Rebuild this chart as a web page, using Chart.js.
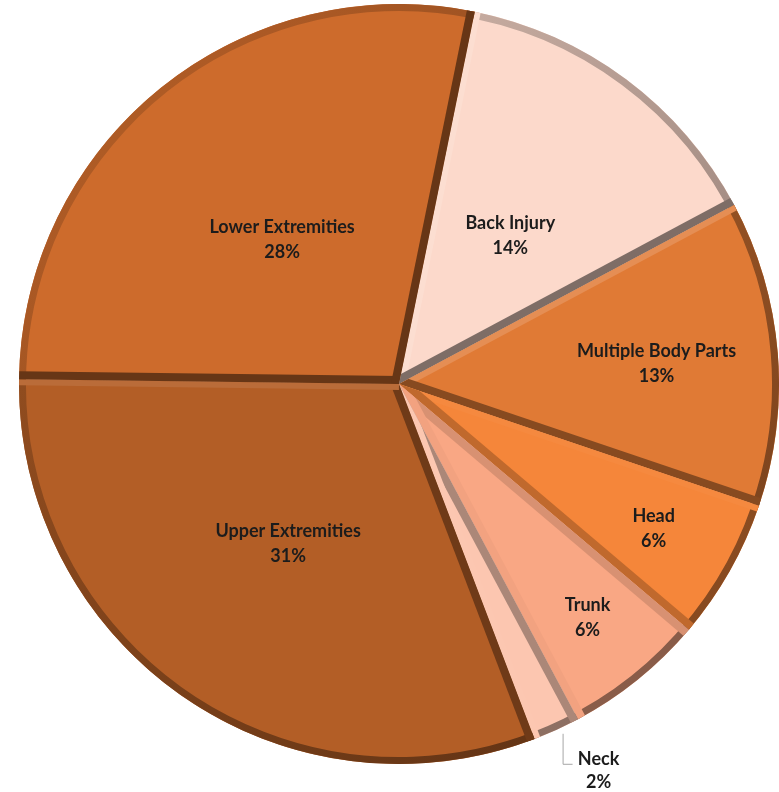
<!DOCTYPE html>
<html>
<head>
<meta charset="utf-8">
<title>Injuries by Body Part</title>
<script src="https://cdn.jsdelivr.net/npm/chart.js@4.4.1/dist/chart.umd.min.js"></script>
<style>
    html, body { margin: 0; padding: 0; background: #ffffff; }
    #wrap { width: 779px; height: 792px; position: relative; }
</style>
</head>
<body>
<div id="wrap"><canvas id="bodyPartChart"></canvas></div>
<script>
// Share of injuries by body part (percent), clockwise from Back Injury
const categories = ['Back Injury', 'Multiple Body Parts', 'Head', 'Trunk', 'Neck', 'Upper Extremities', 'Lower Extremities'];
const shares = [14, 13, 6, 6, 2, 31, 28];

// Slice look
const sliceColors = ['#fcd9cb', '#e07a35', '#f5863a', '#f9a784', '#fcc6b0', '#b35e26', '#cd6b2c'];
const labelRadius = [0.49, 0.68, 0.77, 0.79, null, 0.51, 0.49]; // null = label outside with leader line
const RIM = 7;
const DARK_SIDE = 8;
const LIGHT_SIDE = 6;
const LIGHT = [-Math.SQRT1_2, -Math.SQRT1_2]; // light comes from the top left

function hexToRgb(hex) {
    const n = parseInt(hex.slice(1), 16);
    return [(n >> 16) & 255, (n >> 8) & 255, n & 255];
}

// t > 0 faces the light (lighter), t < 0 faces away (darker)
function edgeShade(hex, t) {
    const c = hexToRgb(hex);
    let out;
    if (t >= 0) {
        out = c.map(v => v + (255 - v) * 0.25 * t);
    } else {
        out = c.map(v => v * (1 - 0.5 * -t));
    }
    return 'rgb(' + out.map(v => Math.round(v)).join(',') + ')';
}

function rimShade(hex, t) {
    const c = hexToRgb(hex);
    const f = 0.7 + 0.15 * t;
    return 'rgb(' + c.map(v => Math.round(v * f)).join(',') + ')';
}

// Bevelled edges: each slice gets a band along its rim and both radial sides
const bevelPlugin = {
    id: 'bevel',
    afterDatasetsDraw(chart) {
        const ctx = chart.ctx;
        const meta = chart.getDatasetMeta(0);
        meta.data.forEach(function(arc, i) {
            const p = arc.getProps(['x', 'y', 'startAngle', 'endAngle', 'outerRadius'], true);
            const color = sliceColors[i];
            ctx.save();
            ctx.beginPath();
            ctx.moveTo(p.x, p.y);
            ctx.arc(p.x, p.y, p.outerRadius, p.startAngle, p.endAngle);
            ctx.closePath();
            ctx.clip();

            // rim, shaded by where its outward normal points
            const grad = ctx.createConicGradient(0, p.x, p.y);
            for (let k = 0; k <= 36; k++) {
                const a = k / 36 * Math.PI * 2;
                const t = Math.cos(a) * LIGHT[0] + Math.sin(a) * LIGHT[1];
                grad.addColorStop(k / 36, rimShade(color, t));
            }
            ctx.strokeStyle = grad;
            ctx.lineWidth = RIM * 2;
            ctx.beginPath();
            ctx.arc(p.x, p.y, p.outerRadius, p.startAngle - 0.05, p.endAngle + 0.05);
            ctx.stroke();

            // radial sides, biased a little towards shadow
            const sides = [
                { a: p.startAngle, n: [Math.sin(p.startAngle), -Math.cos(p.startAngle)] },
                { a: p.endAngle, n: [-Math.sin(p.endAngle), Math.cos(p.endAngle)] }
            ];
            sides.forEach(function(s) {
                let t = s.n[0] * LIGHT[0] + s.n[1] * LIGHT[1] - 0.35;
                t = Math.max(-1, Math.min(1, t));
                ctx.strokeStyle = edgeShade(color, t);
                ctx.lineWidth = (t < 0 ? DARK_SIDE : LIGHT_SIDE) * 2;
                ctx.beginPath();
                ctx.moveTo(p.x, p.y);
                ctx.lineTo(p.x + Math.cos(s.a) * (p.outerRadius + 10), p.y + Math.sin(s.a) * (p.outerRadius + 10));
                ctx.stroke();
            });
            ctx.restore();
        });
    }
};

// Category name and percent in two lines
const labelPlugin = {
    id: 'sliceLabels',
    afterDatasetsDraw(chart) {
        const ctx = chart.ctx;
        const meta = chart.getDatasetMeta(0);
        ctx.save();
        ctx.font = 'bold 18px Lato';
        ctx.fillStyle = '#1c1c1c';
        ctx.textAlign = 'center';
        ctx.textBaseline = 'middle';
        meta.data.forEach(function(arc, i) {
            const p = arc.getProps(['x', 'y', 'startAngle', 'endAngle', 'outerRadius'], true);
            const mid = (p.startAngle + p.endAngle) / 2;
            const pct = shares[i] + '%';
            if (labelRadius[i] !== null) {
                const r = p.outerRadius * labelRadius[i];
                const lx = p.x + Math.cos(mid) * r;
                const ly = p.y + Math.sin(mid) * r;
                ctx.fillText(categories[i], lx, ly - 12);
                ctx.fillText(pct, lx, ly + 13);
            } else {
                const ex = p.x + Math.cos(mid) * p.outerRadius;
                const ey = p.y + Math.sin(mid) * p.outerRadius;
                const lx = ex + 42;
                const ly = ey + 40;
                ctx.strokeStyle = '#a6a6a6';
                ctx.lineWidth = 1;
                ctx.beginPath();
                ctx.moveTo(ex + 6.5, ey + 4);
                ctx.lineTo(ex + 6.5, ly - 5.5);
                ctx.lineTo(lx - 26, ly - 5.5);
                ctx.stroke();
                ctx.fillText(categories[i], lx, ly - 11);
                ctx.fillText(pct, lx, ly + 12);
            }
        });
        ctx.restore();
    }
};

new Chart(document.getElementById('bodyPartChart').getContext('2d'), {
    type: 'pie',
    data: {
        labels: categories,
        datasets: [{
            data: shares,
            backgroundColor: sliceColors,
            borderWidth: 0
        }]
    },
    options: {
        responsive: true,
        maintainAspectRatio: false,
        animation: false,
        rotation: 11.5,
        layout: { padding: { left: 19, top: 4, right: 0, bottom: 28 } },
        plugins: {
            legend: { display: false },
            tooltip: { enabled: false }
        }
    },
    plugins: [bevelPlugin, labelPlugin]
});
</script>
</body>
</html>
